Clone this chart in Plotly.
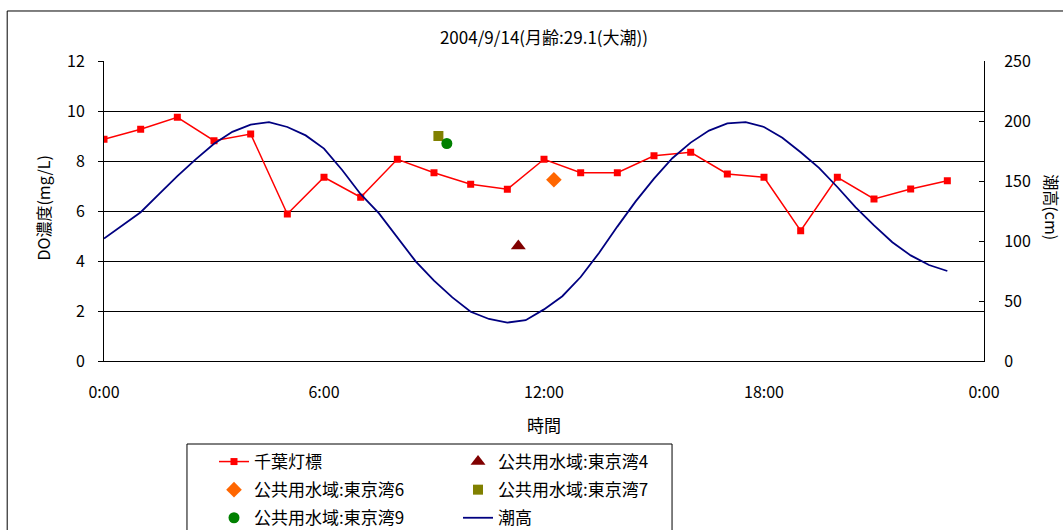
import plotly.graph_objects as go

# ---- data ----
hours = [0, 1, 2, 3, 4, 5, 6, 7, 8, 9, 10, 11, 12, 13, 14, 15, 16, 17, 18, 19, 20, 21, 22, 23]
chiba_do = [8.87, 9.27, 9.75, 8.81, 9.08, 5.88, 7.35, 6.55, 8.07, 7.53, 7.07, 6.87,
            8.07, 7.53, 7.53, 8.21, 8.35, 7.48, 7.35, 5.21, 7.35, 6.48, 6.88, 7.21]

bay4_h, bay4_do = [11.3], [4.6]
bay6_h, bay6_do = [12.27], [7.25]
bay7_h, bay7_do = [9.12], [9.0]
bay9_h, bay9_do = [9.35], [8.7]

tide_hours = [0.0, 0.5, 1.0, 1.5, 2.0, 2.5, 3.0, 3.5, 4.0, 4.5, 5.0, 5.5, 6.0, 6.5, 7.0, 7.5,
              8.0, 8.5, 9.0, 9.5, 10.0, 10.5, 11.0, 11.5, 12.0, 12.5, 13.0, 13.5, 14.0, 14.5,
              15.0, 15.5, 16.0, 16.5, 17.0, 17.5, 18.0, 18.5, 19.0, 19.5, 20.0, 20.5, 21.0,
              21.5, 22.0, 22.5, 23.0]
tide_cm = [102, 113, 124, 139, 154, 168, 181, 191, 197, 199, 195, 188, 177, 159, 139, 123,
           103, 83, 67, 53, 41, 35, 32, 34, 43, 54, 70, 90, 112, 133,
           152, 169, 182, 192, 198, 199, 195, 186, 174, 161, 145, 128, 113,
           99, 88, 80, 75]

x_tickvals = [0, 6, 12, 18, 24]
x_ticktext = ["0:00", "6:00", "12:00", "18:00", "0:00"]

FONT = "Noto Sans CJK JP"

fig = go.Figure()
fig.add_trace(go.Scatter(x=hours, y=chiba_do, name="千葉灯標", mode="lines+markers",
                         line=dict(color="#FF0000", width=1.5),
                         marker=dict(symbol="square", size=7, color="#FF0000"),
                         legend="legend", legendgroup="a"))
fig.add_trace(go.Scatter(x=bay4_h, y=bay4_do, name="公共用水域:東京湾4", mode="markers",
                         marker=dict(symbol="triangle-up", size=13, color="#800000"),
                         legend="legend2", legendgroup="b"))
fig.add_trace(go.Scatter(x=bay6_h, y=bay6_do, name="公共用水域:東京湾6", mode="markers",
                         marker=dict(symbol="diamond", size=12, color="#FF6600"),
                         legend="legend", legendgroup="c"))
fig.add_trace(go.Scatter(x=bay7_h, y=bay7_do, name="公共用水域:東京湾7", mode="markers",
                         marker=dict(symbol="square", size=10, color="#808000"),
                         legend="legend2", legendgroup="d"))
fig.add_trace(go.Scatter(x=bay9_h, y=bay9_do, name="公共用水域:東京湾9", mode="markers",
                         marker=dict(symbol="circle", size=11, color="#008000"),
                         legend="legend", legendgroup="e"))
fig.add_trace(go.Scatter(x=tide_hours, y=tide_cm, name="潮高", mode="lines",
                         line=dict(color="#000080", width=1.8), yaxis="y2",
                         legend="legend2", legendgroup="f"))

legend_common = dict(orientation="v", font=dict(family=FONT, size=17, color="black"),
                     bgcolor="rgba(0,0,0,0)", borderwidth=0, tracegroupgap=3,
                     xanchor="left", yanchor="top", yref="paper", xref="paper")

fig.update_layout(
    width=1063, height=530,
    margin=dict(l=104, r=79, t=61, b=169, autoexpand=False),
    template="none",
    paper_bgcolor="white", plot_bgcolor="white",
    font=dict(family=FONT, size=16, color="black"),
    title=dict(text="2004/9/14(月齢:29.1(大潮))", x=0.5, xref="paper", xanchor="center",
               y=1 - 38 / 530, yanchor="middle", font=dict(family=FONT, size=17)),
    showlegend=True,
    legend=dict(x=0.125, y=-0.2767, **legend_common),
    legend2=dict(x=0.4023, y=-0.2767, **legend_common),
    xaxis=dict(range=[0, 24], tickvals=x_tickvals, ticktext=x_ticktext,
               showgrid=False, zeroline=False, showline=True, linecolor="black",
               linewidth=1, ticks="", ticklabelstandoff=17,
               tickfont=dict(family=FONT, size=16)),
    yaxis=dict(range=[0, 12], dtick=2, showgrid=True, gridcolor="black", gridwidth=1,
               zeroline=False, showline=True, linecolor="black", linewidth=1,
               ticks="outside", ticklen=5, tickcolor="black", ticklabelstandoff=10,
               tickfont=dict(family=FONT, size=16)),
    yaxis2=dict(range=[0, 250], dtick=50, overlaying="y", side="right", showgrid=False,
                zeroline=False, showline=True, linecolor="black", linewidth=1,
                ticks="inside", ticklen=5, tickcolor="black", ticklabelstandoff=16,
                tickfont=dict(family=FONT, size=16)),
    annotations=[
        dict(text="DO濃度(mg/L)", x=-0.0688, y=0.51, xref="paper", yref="paper",
             textangle=-90, showarrow=False, font=dict(family=FONT, size=16),
             xanchor="center", yanchor="middle"),
        dict(text="潮高(cm)", x=1.077, y=0.513, xref="paper", yref="paper",
             textangle=90, showarrow=False, font=dict(family=FONT, size=16),
             xanchor="center", yanchor="middle"),
        dict(text="時間", x=0.5, y=-0.2133, xref="paper", yref="paper",
             showarrow=False, font=dict(family=FONT, size=17),
             xanchor="center", yanchor="middle"),
    ],
    shapes=[
        dict(type="rect", xref="paper", yref="paper", x0=-0.110, x1=1.2, y0=-0.8, y1=1.1667,
             line=dict(color="black", width=1), fillcolor="rgba(0,0,0,0)", layer="below"),
        dict(type="rect", xref="paper", yref="paper", x0=0.0943, x1=0.6455, y0=-0.8, y1=-0.2767,
             line=dict(color="black", width=1), fillcolor="rgba(0,0,0,0)", layer="below"),
    ],
)

fig.write_html("out.html", config={"displayModeBar": False},
               post_script="document.body.style.margin='0';document.body.style.overflow='hidden';")
